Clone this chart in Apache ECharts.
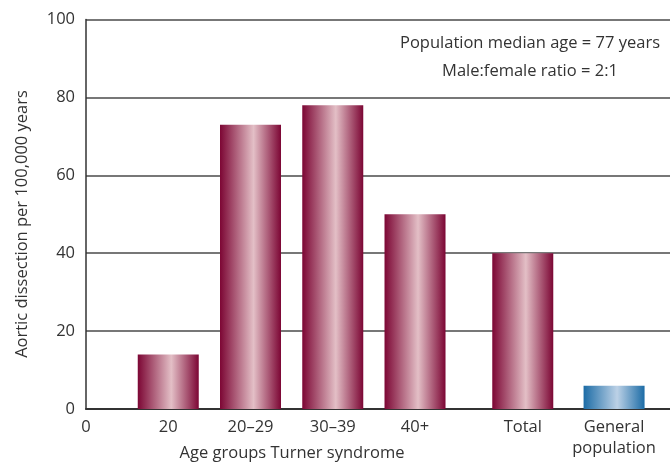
<!DOCTYPE html>
<html>
<head>
<meta charset="utf-8">
<script src="https://cdn.jsdelivr.net/npm/echarts@6/dist/echarts.min.js"></script>
<style>
	html, body { margin: 0; padding: 0; background: #fff; }
	#chart { width: 670px; height: 463px; }
</style>
</head>
<body>
<div id="chart"></div>
<script>
// categories and where they sit along the x axis (in axis units)
const categories = ["20", "20–29", "30–39", "40+", "Total", "General\npopulation"]
const xPositions = [1, 2, 3, 4, 5.31, 6.42]
const values = [14, 73, 78, 50, 40, 6]
const yTicks = [0, 20, 40, 60, 80, 100]

const fontFamily = "Open Sans, Noto Sans, sans-serif"
const fontSize = 16.5

const gradient = (edge, mid) => ({
	type: "linear",
	x: 0,
	y: 0,
	x2: 1,
	y2: 0,
	colorStops: [
		{ offset: 0, color: edge },
		{ offset: 0.55, color: mid },
		{ offset: 1, color: edge },
	],
})
const maroon = gradient("#7c0634", "#e3bfc6")
const blue = gradient("#1c6ca6", "#bcd1e6")

const textItem = (text, x, y, rotation = 0) => ({
	type: "text",
	x,
	y,
	rotation,
	style: {
		text,
		fill: "#333",
		font: `${fontSize}px ${fontFamily}`,
		align: "center",
		verticalAlign: "middle",
	},
})

const chart = echarts.init(document.getElementById("chart"))
chart.setOption({
	animation: false,
	grid: {
		left: 86,
		right: 0,
		top: 19.5,
		bottom: 54,
	},
	xAxis: {
		type: "value",
		min: 0,
		max: 7.1,
		splitLine: { show: false },
		axisTick: { show: false },
		axisLine: {
			show: true,
			lineStyle: { color: "#333", width: 2 },
		},
		axisLabel: {
			customValues: [0].concat(xPositions),
			formatter: v => {
				if (v === 0) return "0"
				const idx = xPositions.indexOf(v)
				return idx >= 0 ? categories[idx] : ""
			},
			color: "#333",
			fontSize,
			fontFamily,
			margin: 8,
			lineHeight: 21,
			verticalAlign: "top",
		},
	},
	yAxis: {
		type: "value",
		min: 0,
		max: 100,
		interval: 20,
		axisTick: { show: false },
		axisLine: {
			show: true,
			lineStyle: { color: "#333", width: 1.5 },
		},
		splitLine: {
			show: true,
			lineStyle: { color: "#4a4a4a", width: 1.5 },
		},
		axisLabel: {
			color: "#333",
			fontSize,
			fontFamily,
			margin: 11,
			formatter: v => (yTicks.includes(v) ? String(v) : ""),
		},
	},
	graphic: [
		textItem("Aortic dissection per 100,000 years", 22, 224, Math.PI / 2),
		textItem("Age groups Turner syndrome", 292, 453),
		textItem("Population median age = 77 years", 530, 43),
		textItem("Male:female ratio = 2:1", 530, 71),
	],
	series: [
		{
			type: "bar",
			barWidth: 61,
			data: values.map((v, i) => ({
				value: [xPositions[i], v],
				itemStyle: { color: i === values.length - 1 ? blue : maroon },
			})),
		},
	],
})
</script>
</body>
</html>
